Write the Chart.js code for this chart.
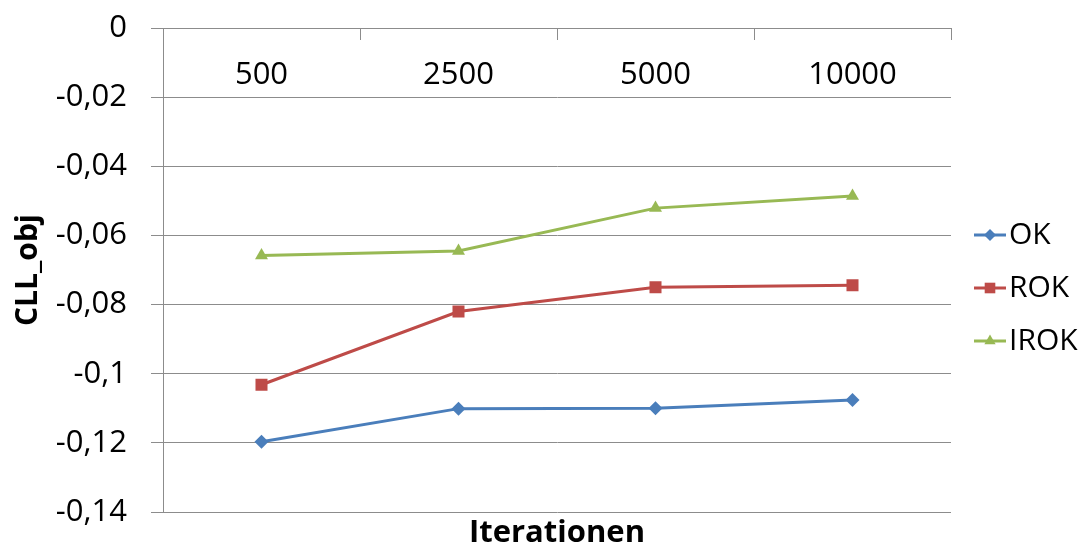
<!DOCTYPE html>
<html>
<head>
<meta charset="utf-8">
<script src="https://cdn.jsdelivr.net/npm/chart.js@4.4.1/dist/chart.umd.min.js"></script>
<style>
  html, body { margin: 0; padding: 0; background: #fff; }
  #wrap { width: 1087px; height: 552px; position: relative; }
</style>
</head>
<body>
<div id="wrap"><canvas id="cllChart"></canvas></div>
<script>
// Werte
const iterations = ['500', '2500', '5000', '10000'];
const okValues = [-0.1197, -0.1101, -0.1100, -0.1076];
const rokValues = [-0.1032, -0.0820, -0.0750, -0.0744];
const irokValues = [-0.0658, -0.0645, -0.0521, -0.0486];
const seriesNames = ['OK', 'ROK', 'IROK'];
const yMin = -0.14;
const yMax = 0;
const yStep = 0.02;

const colors = ['#4a7ebb', '#be4b48', '#98b954'];
const markers = ['rectRot', 'rect', 'triangle'];
const markerSizes = [7, 8.5, 7.5];
const gridColor = '#8c8c8c';
const fontFamily = '"Open Sans", "DejaVu Sans", sans-serif';

// kleine Legenden-Symbole: Linie mit Marker in der Mitte
function makeIcon(color, style, radius) {
    const c = document.createElement('canvas');
    c.width = 48;
    c.height = 20;
    const g = c.getContext('2d');
    g.strokeStyle = color;
    g.lineWidth = 3;
    g.beginPath();
    g.moveTo(14, 10);
    g.lineTo(46, 10);
    g.stroke();
    g.fillStyle = color;
    g.strokeStyle = color;
    Chart.helpers.drawPoint(g, { pointStyle: style, radius: radius, rotation: 0, borderWidth: 0 }, 30, 10);
    return c;
}
const legendIcons = colors.map((col, i) => makeIcon(col, markers[i], markerSizes[i] - 1));

const allValues = [okValues, rokValues, irokValues];
const datasets = allValues.map((vals, i) => ({
    label: seriesNames[i],
    data: vals,
    borderColor: colors[i],
    backgroundColor: colors[i],
    borderWidth: 3,
    tension: 0,
    pointStyle: markers[i],
    pointRadius: markerSizes[i],
    pointBackgroundColor: colors[i],
    pointBorderColor: colors[i],
    pointBorderWidth: 0,
    fill: false
}));

const ctx = document.getElementById('cllChart').getContext('2d');
const cllChart = new Chart(ctx, {
    type: 'line',
    data: { labels: iterations, datasets: datasets },
    options: {
        responsive: true,
        maintainAspectRatio: false,
        animation: false,
        layout: { padding: { top: 24, right: 0, bottom: 0, left: 0 } },
        plugins: {
            tooltip: { enabled: false },
            legend: {
                position: 'right',
                maxWidth: 136,
                labels: {
                    usePointStyle: true,
                    pointStyleWidth: 20,
                    padding: 23,
                    color: '#000',
                    font: { family: fontFamily, size: 30 },
                    generateLabels: function(chart) {
                        const items = Chart.defaults.plugins.legend.labels.generateLabels(chart);
                        items.forEach((it, i) => { it.pointStyle = legendIcons[i]; });
                        return items;
                    }
                }
            }
        },
        scales: {
            x: {
                type: 'category',
                position: 'top',
                offset: true,
                grid: {
                    display: true,
                    drawOnChartArea: false,
                    drawTicks: true,
                    tickLength: -12,
                    offset: true,
                    color: gridColor
                },
                border: { display: true, color: gridColor, width: 1 },
                ticks: {
                    mirror: true,
                    padding: 29,
                    maxRotation: 0,
                    autoSkip: false,
                    color: '#000',
                    font: { family: fontFamily, size: 31 }
                },
                afterFit: function(scale) { scale.height = 4; }
            },
            x2: {
                type: 'category',
                position: 'bottom',
                labels: iterations,
                grid: { display: false },
                border: { display: false },
                ticks: { display: false },
                title: {
                    display: true,
                    text: 'Iterationen',
                    color: '#000',
                    padding: 0,
                    font: { family: fontFamily, size: 31, weight: 'bold' }
                },
                afterFit: function(scale) { scale.height = 40; }
            },
            y: {
                min: yMin,
                max: yMax,
                grid: {
                    color: gridColor,
                    lineWidth: 1,
                    tickLength: 12
                },
                border: { display: true, color: gridColor, width: 1 },
                ticks: {
                    stepSize: yStep,
                    padding: 24,
                    color: '#000',
                    font: { family: fontFamily, size: 31 },
                    callback: function(v) {
                        const r = Math.round(v * 100) / 100;
                        return r === 0 ? '0' : String(r).replace('.', ',');
                    }
                },
                title: {
                    display: true,
                    text: 'CLL_obj',
                    color: '#000',
                    padding: { top: 10, bottom: 0 },
                    font: { family: fontFamily, size: 30, weight: 'bold' }
                },
                afterFit: function(scale) {
                    scale.width = 163;
                    scale.paddingTop = 0;
                    scale.paddingBottom = 0;
                }
            }
        }
    }
});
</script>
</body>
</html>
